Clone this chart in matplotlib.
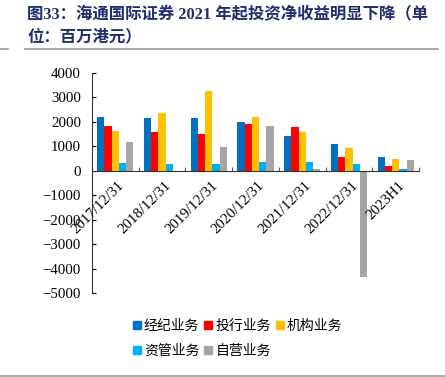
import numpy as np
import matplotlib
matplotlib.use("Agg")
import matplotlib.pyplot as plt
from matplotlib.lines import Line2D

plt.rcParams['font.family'] = ['Liberation Serif', 'Noto Sans CJK SC']

# dados (milhões HKD)
categorias = ["2017/12/31", "2018/12/31", "2019/12/31", "2020/12/31",
              "2021/12/31", "2022/12/31", "2023H1"]
series_nomes = ["经纪业务", "投行业务", "机构业务", "资管业务", "自营业务"]
jingji = [2180, 2140, 2155, 1990, 1405, 1090, 560]
touhang = [1840, 1595, 1515, 1910, 1790, 575, 180]
jigou = [1640, 2375, 3245, 2195, 1570, 940, 490]
ziguan = [315, 275, 285, 355, 370, 285, 80]
ziying = [1175, -55, 980, 1840, 80, -4340, 435]
cores = ["#0070C0", "#FF0000", "#FFC000", "#00B0F0", "#A5A5A5"]

valores = [jingji, touhang, jigou, ziguan, ziying]

fig = plt.figure(figsize=(4.45, 3.77), dpi=100)
W, H = 445, 377

# eixo: x 92->419 px, y 73 (4000) -> 293 (-5000)
ax = fig.add_axes([92 / W, 1 - 293 / H, (419 - 92) / W, (293 - 73) / H])

x = np.arange(len(categorias))
bw = 0.155
for i, (vals, c) in enumerate(zip(valores, cores)):
    ax.bar(x + (i - 2) * bw, vals, width=bw, color=c, zorder=2)

ax.set_xlim(-0.5, len(categorias) - 0.5)
ax.set_ylim(-5000, 4000)
ax.set_yticks(np.arange(-5000, 4001, 1000))
ax.tick_params(axis='y', direction='in', length=3, labelsize=10.7, pad=8)

for s in ["top", "right"]:
    ax.spines[s].set_visible(False)
ax.spines["bottom"].set_position(("data", 0))
ax.spines["left"].set_color("#333333")
ax.spines["bottom"].set_color("#333333")

ax.set_xticks(np.arange(-0.5, len(categorias), 1.0))
ax.set_xticklabels([])
ax.tick_params(axis='x', direction='in', length=3, color="#555555")
for i, cat in enumerate(categorias):
    ax.text(i + 0.05, -330, cat, rotation=45, ha='right', va='top',
            rotation_mode='anchor', fontsize=10.7, family='Liberation Serif')

# legenda (ordem por coluna para ficar em linhas como no original)
ordem = [0, 3, 1, 4, 2]
handles = [Line2D([], [], marker='s', linestyle='', color=cores[k], markersize=6)
           for k in ordem]
fig.legend(handles, [series_nomes[k] for k in ordem], ncol=3, loc='upper left',
           bbox_to_anchor=(121 / W, 1 - 308 / H), frameon=False,
           handletextpad=0.15, columnspacing=0.3, labelspacing=0.75,
           handlelength=0.7, borderpad=0.3,
           prop={'family': 'Noto Sans CJK SC', 'size': 10})

# título
fig.text(27 / W, 1 - 15 / H, "图33：海通国际证券 2021 年起投资净收益明显下降（单",
         fontsize=11.8, fontweight='bold', color="#1F2F6E", va='center')
fig.text(27 / W, 1 - 37 / H, "位：百万港元）",
         fontsize=11.8, fontweight='bold', color="#1F2F6E", va='center')

# linhas do cabeçalho e rodapé
fig.add_artist(Line2D([25 / W, 438 / W], [1 - 49 / H, 1 - 49 / H],
                      color="#999999", lw=1.2))
fig.add_artist(Line2D([0, 8 / W], [1 - 49 / H, 1 - 49 / H],
                      color="#999999", lw=1.2))
fig.add_artist(Line2D([0, 1], [1 - 376 / H, 1 - 376 / H],
                      color="#999999", lw=1.2))

fig.savefig("out.png", dpi=100)
